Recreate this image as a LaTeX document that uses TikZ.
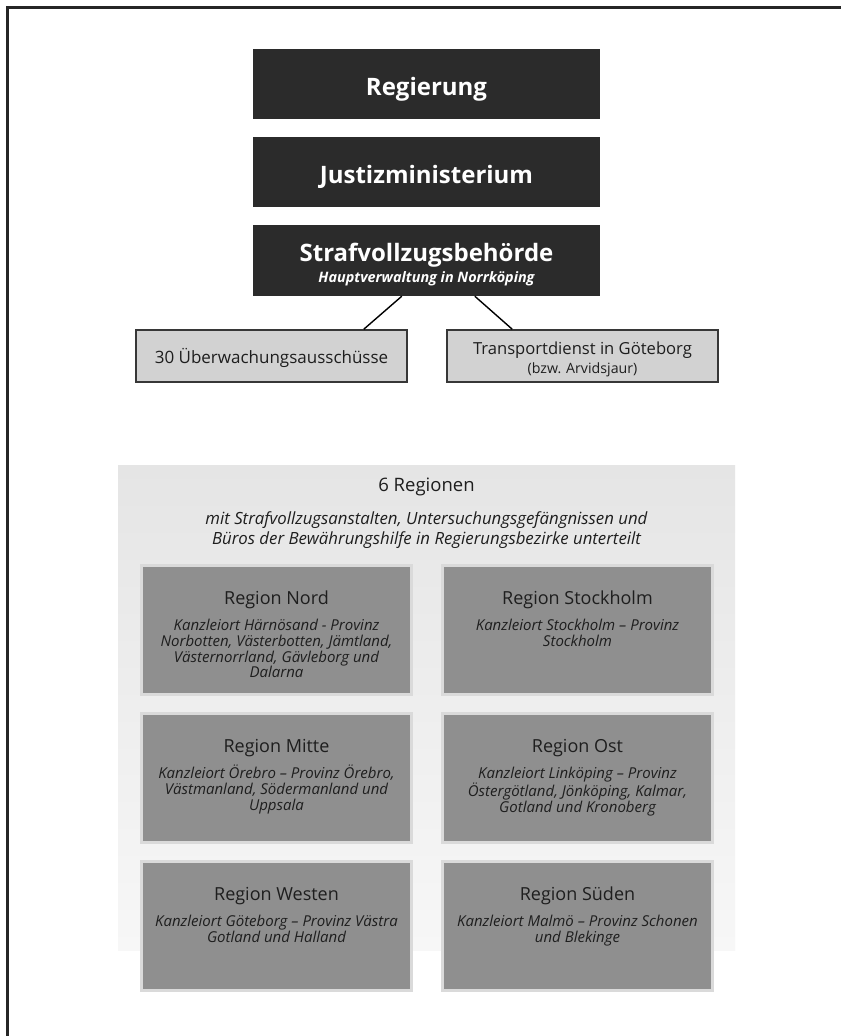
\documentclass[tikz,border=0pt]{standalone}
\usepackage{fontspec}
\setmainfont{Open Sans}
\definecolor{darkfill}{RGB}{43,43,43}
\definecolor{smallfill}{RGB}{210,210,210}
\definecolor{smallline}{RGB}{55,55,55}
\definecolor{regfill}{RGB}{143,143,143}
\definecolor{regframe}{RGB}{218,218,218}
\definecolor{bgtop}{RGB}{229,229,229}
\definecolor{bgbottom}{RGB}{247,247,247}
\definecolor{regtext}{RGB}{30,30,30}
\begin{document}
\begin{tikzpicture}[x=1pt,y=-1pt,
  topbox/.style={fill=darkfill, draw=none, inner sep=0pt, minimum width=347pt},
  toptext/.style={text=white, inner sep=0pt, anchor=base},
  smallbox/.style={fill=smallfill, draw=smallline, line width=1.5pt, inner sep=0pt,
    minimum width=271pt, minimum height=52pt},
  smalltext/.style={text=regtext, inner sep=0pt, anchor=base},
  connector/.style={draw=black, line width=1.4pt},
  regbox/.style={fill=regfill, draw=regframe, line width=3pt, inner sep=0pt,
    minimum width=270pt, minimum height=129pt},
  regtitle/.style={text=regtext, inner sep=0pt, anchor=base,
    font=\fontsize{18pt}{21pt}\selectfont},
  regbody/.style={text=regtext, inner sep=0pt, anchor=north, align=center,
    font=\fontsize{15pt}{15.7pt}\selectfont\itshape},
  bgpanel/.style={draw=none, inner sep=0pt, top color=bgtop, bottom color=bgbottom,
    minimum width=617pt, minimum height=485pt}
]
\useasboundingbox (0,0) rectangle (841,1036);
\fill[white] (0,0) rectangle (841,1036);
% frame (top and left edges only)
\draw[line width=2.5pt, black!85] (7.5,1036) -- (7.5,7.5) -- (841,7.5);

% top hierarchy
\node[topbox, minimum height=70pt] (reg) at (426.5,84) {};
\node[toptext] (regT) at ([yshift=-11pt]reg.center)
  {\fontsize{24pt}{28pt}\selectfont\bfseries Regierung};
\node[topbox, minimum height=70pt] (jus) at (426.5,172) {};
\node[toptext] (jusT) at ([yshift=-11pt]jus.center)
  {\fontsize{24pt}{28pt}\selectfont\bfseries Justizministerium};
\node[topbox, minimum height=71pt] (straf) at (426.5,260.5) {};
\node[toptext] (strafT) at ([yshift=-0.5pt]straf.center)
  {\fontsize{24pt}{28pt}\selectfont\bfseries Strafvollzugsbehörde};
\node[toptext] (strafS) at ([yshift=-22pt]straf.center)
  {\fontsize{14.4pt}{17pt}\selectfont\bfseries\itshape Hauptverwaltung in Norrköping};

\node[smallbox] (ueber) at (271.5,356) {};
\node[smalltext] (ueberT) at ([yshift=-7pt]ueber.center)
  {\fontsize{17pt}{20pt}\selectfont 30 Überwachungsausschüsse};
\node[smallbox] (trans) at (582.5,356) {};
\node[smalltext] (transT) at ([yshift=2pt]trans.center)
  {\fontsize{16.6pt}{19pt}\selectfont Transportdienst in Göteborg};
\node[smalltext] (transS) at ([yshift=-17pt]trans.center)
  {\fontsize{14.2pt}{16pt}\selectfont (bzw. Arvidsjaur)};

\draw[connector] ([xshift=149pt]straf.south west) -- ([xshift=-44pt]ueber.north east);
\draw[connector] ([xshift=222pt]straf.south west) -- ([xshift=66pt]trans.north west);

% regions panel
\node[bgpanel] (bg) at (426.5,707.5) {};
\node[smalltext] (bgT) at ([yshift=-26.5pt]bg.north)
  {\fontsize{18.5pt}{21pt}\selectfont 6 Regionen};
\node[regbody, font=\fontsize{16.8pt}{20pt}\selectfont\itshape] (bgS) at ([yshift=-44pt]bg.north)
  {\rule{0pt}{15pt}mit Strafvollzugsanstalten, Untersuchungsgefängnissen und\\
   Büros der Bewährungshilfe in Regierungsbezirke unterteilt};

\node[regbox] (nord) at (276.5,630) {};
\node[regtitle] (nordT) at ([yshift=-40pt]nord.north) {Region Nord};
\node[regbody] (nordB) at ([yshift=-52.5pt]nord.north)
  {\rule{0pt}{14pt}Kanzleiort Härnösand - Provinz\\Norbotten, Västerbotten, Jämtland,\\Västernorrland, Gävleborg und\\Dalarna};

\node[regbox] (sthlm) at (577.5,630) {};
\node[regtitle] (sthlmT) at ([yshift=-40pt]sthlm.north) {Region Stockholm};
\node[regbody] (sthlmB) at ([yshift=-52.5pt]sthlm.north)
  {\rule{0pt}{14pt}Kanzleiort Stockholm – Provinz\\Stockholm};

\node[regbox] (mitte) at (276.5,778) {};
\node[regtitle] (mitteT) at ([yshift=-40pt]mitte.north) {Region Mitte};
\node[regbody] (mitteB) at ([yshift=-52.5pt]mitte.north)
  {\rule{0pt}{14pt}Kanzleiort Örebro – Provinz Örebro,\\Västmanland, Södermanland und\\Uppsala};

\node[regbox] (ost) at (577.5,778) {};
\node[regtitle] (ostT) at ([yshift=-40pt]ost.north) {Region Ost};
\node[regbody] (ostB) at ([yshift=-52.5pt]ost.north)
  {\rule{0pt}{14pt}Kanzleiort Linköping – Provinz\\Östergötland, Jönköping, Kalmar,\\Gotland und Kronoberg};

\node[regbox] (west) at (276.5,926) {};
\node[regtitle] (westT) at ([yshift=-40pt]west.north) {Region Westen};
\node[regbody] (westB) at ([yshift=-52.5pt]west.north)
  {\rule{0pt}{14pt}Kanzleiort Göteborg – Provinz Västra\\Gotland und Halland};

\node[regbox] (sued) at (577.5,926) {};
\node[regtitle] (suedT) at ([yshift=-40pt]sued.north) {Region Süden};
\node[regbody] (suedB) at ([yshift=-52.5pt]sued.north)
  {\rule{0pt}{14pt}Kanzleiort Malmö – Provinz Schonen\\und Blekinge};
\end{tikzpicture}
\end{document}
